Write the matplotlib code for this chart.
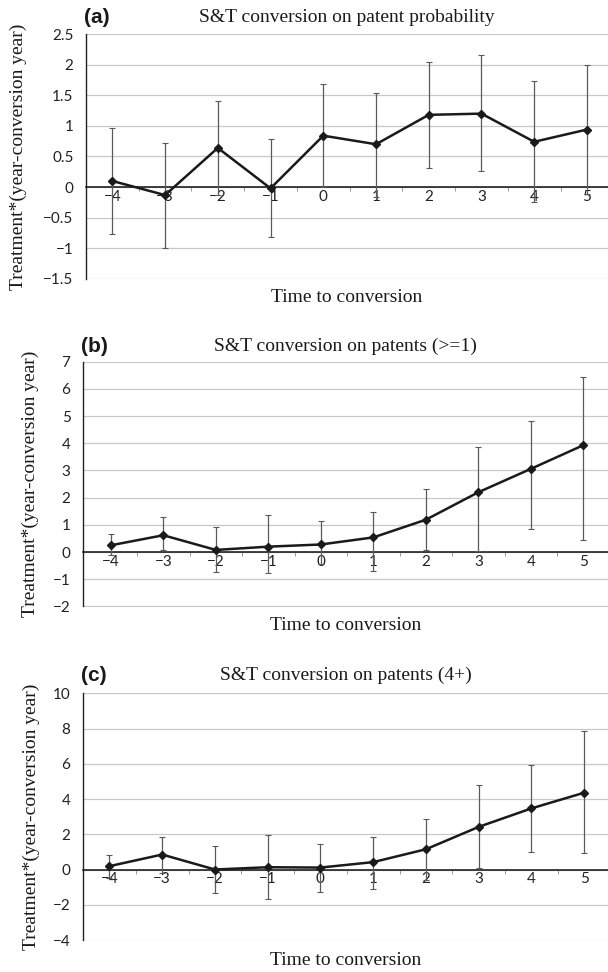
import matplotlib
matplotlib.use("Agg")
import matplotlib.pyplot as plt
from matplotlib.ticker import FixedLocator, FuncFormatter
import numpy as np

# ---------------- data ----------------
years = [-4, -3, -2, -1, 0, 1, 2, 3, 4, 5]
x_tick_labels = ["\u22124", "\u22123", "\u22122", "\u22121", "0", "1", "2", "3", "4", "5"]

# (a) patent probability
a_est = [0.10, -0.13, 0.64, -0.02, 0.84, 0.70, 1.18, 1.20, 0.74, 0.94]
a_lo = [-0.76, -1.00, -0.13, -0.82, 0.00, -0.16, 0.32, 0.26, -0.25, -0.12]
a_hi = [0.96, 0.72, 1.41, 0.78, 1.68, 1.53, 2.04, 2.16, 1.73, 2.00]

# (b) patents (>=1)
b_est = [0.25, 0.62, 0.08, 0.20, 0.28, 0.54, 1.19, 2.20, 3.06, 3.93]
b_lo = [-0.10, 0.08, -0.73, -0.77, -0.45, -0.68, 0.07, 0.05, 0.84, 0.43]
b_hi = [0.67, 1.29, 0.92, 1.36, 1.13, 1.49, 2.31, 3.86, 4.83, 6.45]

# (c) patents (4+)
c_est = [0.19, 0.85, 0.00, 0.13, 0.11, 0.42, 1.15, 2.42, 3.47, 4.36]
c_lo = [-0.47, -0.17, -1.36, -1.70, -1.30, -1.08, -0.59, 0.06, 1.00, 0.91]
c_hi = [0.85, 1.87, 1.34, 1.98, 1.47, 1.87, 2.89, 4.81, 5.94, 7.85]

panel_letters = ["(a)", "(b)", "(c)"]
titles = ["S&T conversion on patent probability",
          "S&T conversion on patents (>=1)",
          "S&T conversion on patents (4+)"]
y_ticks = [[2.5, 2, 1.5, 1, 0.5, 0, -0.5, -1, -1.5],
           [7, 6, 5, 4, 3, 2, 1, 0, -1, -2],
           [10, 8, 6, 4, 2, 0, -2, -4]]
x_label = "Time to conversion"
y_label = "Treatment*(year-conversion year)"

# ---------------- layout ----------------
W, H = 608, 972
fig = plt.figure(figsize=(W / 100, H / 100), dpi=100)

serif = ["Liberation Serif", "DejaVu Serif"]
sans_tick = ["Lato", "DejaVu Sans"]
sans_bold = ["Liberation Sans", "DejaVu Sans"]

# pixel geometry: (left, top, bottom, xlim, ylabel_x, title_y, xlabel_y)
geo = [
    (86, 34.0, 279.0, (-4.50, 5.40), 18.5, 17.5, 298),
    (83, 361.7, 606.5, (-4.53, 5.47), 30.0, 346.5, 625),
    (83, 693.3, 940.0, (-4.50, 5.45), 31.0, 675.5, 960),
]
series = [(a_est, a_lo, a_hi), (b_est, b_lo, b_hi), (c_est, c_lo, c_hi)]


def fmt(v, pos):
    s = "%g" % v
    return s.replace("-", "\u2212")


for i in range(3):
    left, top, bottom, xlim, ylx, ty, xly = geo[i]
    est, lo, hi = series[i]
    ax = fig.add_axes([left / W, 1 - bottom / H, (W - left) / W, (bottom - top) / H])
    yt = y_ticks[i]
    ax.set_ylim(min(yt), max(yt))
    ax.set_xlim(*xlim)

    # grid
    ax.set_yticks(yt)
    ax.yaxis.set_major_formatter(FuncFormatter(fmt))
    ax.grid(axis="y", color="#c8c8c8", linewidth=0.9)
    ax.set_axisbelow(True)

    # spines
    for s in ["top", "right"]:
        ax.spines[s].set_visible(False)
    ax.spines["left"].set_color("#222222")
    ax.spines["left"].set_linewidth(1.0)
    ax.spines["bottom"].set_position(("data", 0))
    ax.spines["bottom"].set_color("#111111")
    ax.spines["bottom"].set_linewidth(1.1)

    # ticks
    ax.xaxis.set_major_locator(FixedLocator(years))
    ax.set_xticklabels(x_tick_labels)
    ax.xaxis.set_minor_locator(FixedLocator([y + 0.5 for y in years[:-1]]))
    ax.tick_params(axis="x", which="major", length=0, pad=2.0,
                   labelsize=11, labelcolor="#222222")
    ax.tick_params(axis="x", which="minor", length=3, width=0.7,
                   color="#999999", direction="out")
    ax.tick_params(axis="y", which="major", length=0, pad=9,
                   labelsize=11, labelcolor="#222222")
    for lab in ax.get_xticklabels() + ax.get_yticklabels():
        lab.set_family(sans_tick)

    # data
    est_a = np.array(est)
    yerr = np.vstack([est_a - np.array(lo), np.array(hi) - est_a])
    ax.errorbar(years, est, yerr=yerr, fmt="none", ecolor="#5a5a5a",
                elinewidth=0.9, capsize=2.5, capthick=0.8, zorder=3)
    ax.plot(years, est, color="#1a1a1a", linewidth=1.8, marker="D",
            markersize=4.5, markerfacecolor="#1a1a1a",
            markeredgecolor="#1a1a1a", zorder=4, clip_on=False)

    # texts
    cx = (left + W) / 2 / W
    fig.text((left - 2) / W, 1 - ty / H, panel_letters[i], family=sans_bold,
             fontweight="bold", fontsize=15, ha="left", va="center",
             color="#1a1a1a")
    fig.text(cx, 1 - ty / H, titles[i], family=serif, fontsize=14,
             ha="center", va="center", color="#1a1a1a")
    fig.text(cx, 1 - xly / H, x_label, family=serif, fontsize=14,
             ha="center", va="center", color="#1a1a1a")
    fig.text(ylx / W, 1 - (top + bottom) / 2 / H, y_label, family=serif,
             fontsize=14, rotation=90, ha="center", va="center",
             color="#1a1a1a")

fig.savefig("out.png", dpi=100, facecolor="white")
